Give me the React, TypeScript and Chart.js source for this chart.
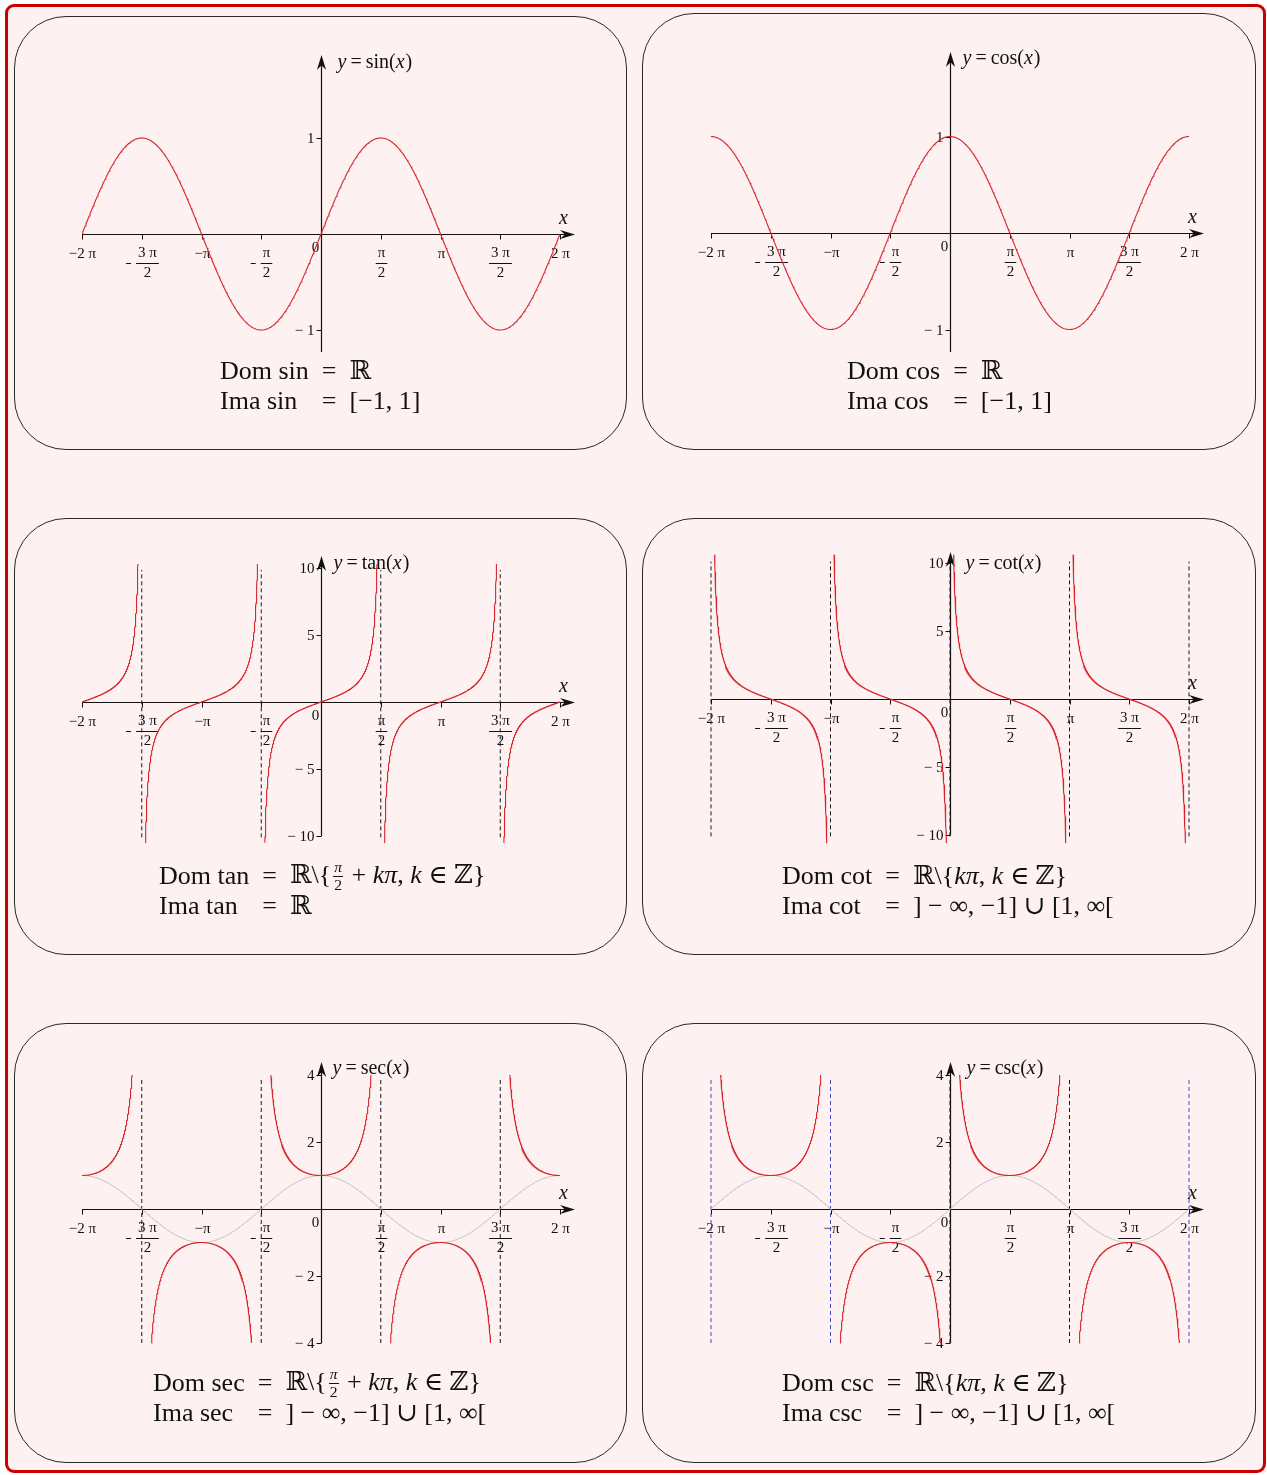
import React, { useEffect, useRef } from 'react';
import { Chart, registerables } from 'chart.js';

Chart.register(...registerables);

const PI = Math.PI;
const SERIF = '"Liberation Serif", "DejaVu Serif", "Times New Roman", serif';
const X_MIN = -2 * PI;
const X_MAX = 2 * PI;

const CURVE_RED = 'rgb(214, 38, 44)';
const GUIDE_GRAY = 'rgb(192, 192, 192)';
const ASYM_BLACK = '#1a1a1a';
const ASYM_BLUE = 'rgb(70, 70, 200)';
const AXIS_INK = '#111111';

// x ticks at multiples of π/2
const xTickValues = [-2 * PI, -1.5 * PI, -PI, -0.5 * PI, 0.5 * PI, PI, 1.5 * PI, 2 * PI];
const xTickNumerators = ['2 π', '3 π', 'π', 'π', 'π', 'π', '3 π', '2 π'];
const xTickDenominators = ['', '2', '', '2', '2', '', '2', ''];
const xTickNegative = [true, true, true, true, false, false, false, false];

// y ticks per plot
const sinYTicks = [-1, 1];
const cosYTicks = [-1, 1];
const tanYTicks = [-10, -5, 5, 10];
const cotYTicks = [-10, -5, 5, 10];
const secYTicks = [-4, -2, 2, 4];
const cscYTicks = [-4, -2, 2, 4];

// vertical asymptotes
const tanAsymptotes = [-1.5 * PI, -0.5 * PI, 0.5 * PI, 1.5 * PI];
const cotAsymptotes = [-2 * PI, -PI, 0, PI, 2 * PI];
const secAsymptotes = [-1.5 * PI, -0.5 * PI, 0.5 * PI, 1.5 * PI];
const cscAsymptotes = [-2 * PI, -PI, 0, PI, 2 * PI];
const cscAsymptoteColors = [ASYM_BLUE, ASYM_BLUE, ASYM_BLACK, ASYM_BLACK, ASYM_BLUE];

// branch centres and cut-off values of the unbounded functions
const tanBranchCenters = [-2 * PI, -PI, 0, PI, 2 * PI];
const cotBranchCenters = [-1.5 * PI, -0.5 * PI, 0.5 * PI, 1.5 * PI];
const secBranchCenters = [-2 * PI, -PI, 0, PI, 2 * PI];
const cscBranchCenters = [-1.5 * PI, -0.5 * PI, 0.5 * PI, 1.5 * PI];
const tanLimits = [-10.5, 10.3];
const cotLimits = [-10.6, 10.6];
const secCscLimit = 4;

type Pt = { x: number; y: number | null };

function sampleSmooth(f: (x: number) => number, n: number): Pt[] {
  const pts: Pt[] = [];
  for (let i = 0; i <= n; i++) {
    const x = X_MIN + ((X_MAX - X_MIN) * i) / n;
    pts.push({ x, y: f(x) });
  }
  return pts;
}

function sampleBranches(
  f: (x: number) => number,
  centers: number[],
  sLo: number,
  sHi: number,
  n: number
): Pt[] {
  const pts: Pt[] = [];
  centers.forEach((c) => {
    const a = Math.max(X_MIN, c + sLo);
    const b = Math.min(X_MAX, c + sHi);
    if (b <= a) return;
    for (let i = 0; i <= n; i++) {
      const x = a + ((b - a) * i) / n;
      pts.push({ x, y: f(x) });
    }
    pts.push({ x: b + 1e-6, y: null });
  });
  return pts;
}

const sinPoints = sampleSmooth(Math.sin, 600);
const cosPoints = sampleSmooth(Math.cos, 600);
const tanPoints = sampleBranches(Math.tan, tanBranchCenters, Math.atan(tanLimits[0]), Math.atan(tanLimits[1]), 700);
const cotPoints = sampleBranches(
  (x) => 1 / Math.tan(x),
  cotBranchCenters,
  -Math.atan(cotLimits[1]),
  -Math.atan(cotLimits[0]),
  700
);
const secPoints = sampleBranches(
  (x) => 1 / Math.cos(x),
  secBranchCenters,
  -Math.acos(1 / secCscLimit),
  Math.acos(1 / secCscLimit),
  500
);
const cscPoints = sampleBranches(
  (x) => 1 / Math.sin(x),
  cscBranchCenters,
  -Math.acos(1 / secCscLimit),
  Math.acos(1 / secCscLimit),
  500
);

interface PlotSpec {
  key: string;
  box: { x: number; y: number; w: number; h: number };
  x0: number;
  x1: number;
  yZero: number;
  yUnit: number;
  yMin: number;
  yMax: number;
  axisTop: number;
  axisBottom: number;
  yTicks: number[];
  fnName: string;
  titleDx: number;
  titleDy: number;
  datasets: any[];
}

function curve(data: Pt[], color: string, width = 1.1) {
  return {
    data,
    borderColor: color,
    borderWidth: width,
    pointRadius: 0,
    fill: false,
    spanGaps: false,
    tension: 0,
  };
}

function asymptotes(xs: number[], lo: number, hi: number, colors?: string[]) {
  return xs.map((a, i) => ({
    data: [
      { x: a, y: lo },
      { x: a, y: hi },
    ],
    borderColor: colors ? colors[i] : ASYM_BLACK,
    borderWidth: 1,
    borderDash: [4, 3],
    pointRadius: 0,
    fill: false,
    clip: false,
  }));
}

const LEFT_BOX_X = 14;
const RIGHT_BOX_X = 642;

const plots: PlotSpec[] = [
  {
    key: 'sin',
    box: { x: LEFT_BOX_X, y: 16, w: 613, h: 434 },
    x0: 82, x1: 560, yZero: 234, yUnit: 96,
    yMin: -1.3, yMax: 1.95, axisTop: 1.865, axisBottom: -1.23,
    yTicks: sinYTicks, fnName: 'sin', titleDx: 16, titleDy: 8,
    datasets: [curve(sinPoints, CURVE_RED)],
  },
  {
    key: 'cos',
    box: { x: RIGHT_BOX_X, y: 13, w: 614, h: 437 },
    x0: 711, x1: 1189, yZero: 233, yUnit: 96.5,
    yMin: -1.3, yMax: 1.95, axisTop: 1.876, axisBottom: -1.233,
    yTicks: cosYTicks, fnName: 'cos', titleDx: 12, titleDy: 7,
    datasets: [curve(cosPoints, CURVE_RED)],
  },
  {
    key: 'tan',
    box: { x: LEFT_BOX_X, y: 518, w: 613, h: 437 },
    x0: 82, x1: 560, yZero: 702, yUnit: 13.4,
    yMin: -10.8, yMax: 11.2, axisTop: 10.9, axisBottom: -10,
    yTicks: tanYTicks, fnName: 'tan', titleDx: 12, titleDy: 8,
    datasets: [curve(tanPoints, CURVE_RED), ...asymptotes(tanAsymptotes, -10.1, 9.85)],
  },
  {
    key: 'cot',
    box: { x: RIGHT_BOX_X, y: 518, w: 614, h: 437 },
    x0: 711, x1: 1189, yZero: 699, yUnit: 13.6,
    yMin: -10.8, yMax: 11.2, axisTop: 10.8, axisBottom: -10,
    yTicks: cotYTicks, fnName: 'cot', titleDx: 15, titleDy: 12,
    datasets: [curve(cotPoints, CURVE_RED), ...asymptotes(cotAsymptotes, -10.1, 10.1)],
  },
  {
    key: 'sec',
    box: { x: LEFT_BOX_X, y: 1023, w: 613, h: 440 },
    x0: 82, x1: 560, yZero: 1209, yUnit: 33.5,
    yMin: -4.15, yMax: 4.5, axisTop: 4.39, axisBottom: -4,
    yTicks: secYTicks, fnName: 'sec', titleDx: 11, titleDy: 7,
    datasets: [
      curve(secPoints, CURVE_RED),
      curve(cosPoints, GUIDE_GRAY, 1),
      ...asymptotes(secAsymptotes, -4, 3.91),
    ],
  },
  {
    key: 'csc',
    box: { x: RIGHT_BOX_X, y: 1023, w: 614, h: 440 },
    x0: 711, x1: 1189, yZero: 1209, yUnit: 33.5,
    yMin: -4.15, yMax: 4.5, axisTop: 4.39, axisBottom: -4,
    yTicks: cscYTicks, fnName: 'csc', titleDx: 16, titleDy: 7,
    datasets: [
      curve(cscPoints, CURVE_RED),
      curve(sinPoints, GUIDE_GRAY, 1),
      ...asymptotes(cscAsymptotes, -4, 3.91, cscAsymptoteColors),
    ],
  },
];

// pieces: [text, italic, extra gap after]
function drawRich(ctx: CanvasRenderingContext2D, pieces: [string, boolean, number][], x: number, y: number, size: number) {
  let cx = x;
  pieces.forEach(([text, italic, gap]) => {
    ctx.font = `${italic ? 'italic ' : ''}${size}px ${SERIF}`;
    ctx.fillText(text, cx, y);
    cx += ctx.measureText(text).width + gap;
  });
}

function drawArrow(ctx: CanvasRenderingContext2D, tx: number, ty: number, dir: 'right' | 'up') {
  const L = 15;
  const W = 4.6;
  const N = 0.68;
  ctx.beginPath();
  if (dir === 'right') {
    ctx.moveTo(tx, ty);
    ctx.lineTo(tx - L, ty - W);
    ctx.lineTo(tx - L * N, ty);
    ctx.lineTo(tx - L, ty + W);
  } else {
    ctx.moveTo(tx, ty);
    ctx.lineTo(tx - W, ty + L);
    ctx.lineTo(tx, ty + L * N);
    ctx.lineTo(tx + W, ty + L);
  }
  ctx.closePath();
  ctx.fill();
}

const TICK_FONT = `15px ${SERIF}`;

function mathAxesPlugin(spec: PlotSpec) {
  return {
    id: 'mathAxes',
    beforeDatasetsDraw(chart: any) {
      const ctx: CanvasRenderingContext2D = chart.ctx;
      const xs = chart.scales.x;
      const ys = chart.scales.y;
      const ox = Math.round(xs.getPixelForValue(0)) + 0.5;
      const oy = Math.round(ys.getPixelForValue(0)) + 0.5;
      const left = xs.getPixelForValue(X_MIN);
      const xEnd = xs.getPixelForValue(X_MAX);
      const right = xEnd + 15;
      const top = ys.getPixelForValue(spec.axisTop);
      const bottom = ys.getPixelForValue(spec.axisBottom);

      ctx.save();
      ctx.strokeStyle = AXIS_INK;
      ctx.fillStyle = AXIS_INK;
      ctx.lineWidth = 1.2;

      // axes
      ctx.beginPath();
      ctx.moveTo(left, oy);
      ctx.lineTo(right - 6, oy);
      ctx.moveTo(ox, bottom);
      ctx.lineTo(ox, top + 6);
      ctx.stroke();
      drawArrow(ctx, right, oy, 'right');
      drawArrow(ctx, ox, top, 'up');

      // x ticks and labels
      ctx.lineWidth = 1;
      ctx.textBaseline = 'middle';
      xTickValues.forEach((v, i) => {
        const px = Math.round(xs.getPixelForValue(v)) + 0.5;
        ctx.beginPath();
        ctx.moveTo(px, oy);
        ctx.lineTo(px, oy + 5);
        ctx.stroke();

        ctx.font = TICK_FONT;
        const num = xTickNumerators[i];
        const den = xTickDenominators[i];
        const neg = xTickNegative[i];
        if (!den) {
          ctx.textAlign = 'center';
          ctx.fillText((neg ? '−' : '') + num, px, oy + 20);
        } else {
          const wFrac = Math.max(ctx.measureText(num).width, ctx.measureText(den).width) + 4;
          const wSign = neg ? 5 : 0;
          const gap = neg ? 5 : 0;
          const start = px - (wSign + gap + wFrac) / 2;
          const fc = start + wSign + gap + wFrac / 2;
          const barY = Math.round(oy + 28) + 0.5;
          if (neg) {
            ctx.beginPath();
            ctx.moveTo(start, barY);
            ctx.lineTo(start + wSign, barY);
            ctx.stroke();
          }
          ctx.textAlign = 'center';
          ctx.fillText(num, fc, oy + 19);
          ctx.fillText(den, fc, oy + 39);
          ctx.beginPath();
          ctx.moveTo(fc - wFrac / 2, barY);
          ctx.lineTo(fc + wFrac / 2, barY);
          ctx.stroke();
        }
      });

      // y ticks and labels
      spec.yTicks.forEach((v) => {
        const py = Math.round(ys.getPixelForValue(v)) + 0.5;
        ctx.beginPath();
        ctx.moveTo(ox - 5, py);
        ctx.lineTo(ox, py);
        ctx.stroke();
        ctx.font = TICK_FONT;
        ctx.textAlign = 'right';
        ctx.fillText(v < 0 ? '− ' + Math.abs(v) : String(v), ox - 7, py + 0.5);
      });

      // origin
      ctx.textAlign = 'center';
      ctx.font = TICK_FONT;
      ctx.fillText('0', ox - 6, oy + 14);

      // axis names
      ctx.textAlign = 'left';
      ctx.font = `italic 20px ${SERIF}`;
      ctx.fillText('x', xEnd - 1, oy - 16);
      drawRich(
        ctx,
        [
          ['y', true, 4],
          ['=', false, 4],
          [spec.fnName + '(', false, 0],
          ['x', true, 1],
          [')', false, 0],
        ],
        ox + spec.titleDx,
        top + spec.titleDy,
        20
      );
      ctx.restore();
    },
  };
}

function PlotCanvas({ spec }: { spec: PlotSpec }) {
  const ref = useRef<HTMLCanvasElement>(null);
  useEffect(() => {
    const canvas = ref.current;
    if (!canvas) return;
    const { box } = spec;
    const plotTop = spec.yZero - spec.yMax * spec.yUnit;
    const plotBottom = spec.yZero - spec.yMin * spec.yUnit;
    const chart = new Chart(canvas, {
      type: 'line',
      data: { datasets: spec.datasets },
      options: {
        responsive: false,
        animation: false,
        devicePixelRatio: 1,
        events: [],
        layout: {
          padding: {
            left: spec.x0 - box.x,
            right: box.x + box.w - spec.x1,
            top: plotTop - box.y,
            bottom: box.y + box.h - plotBottom,
          },
        },
        plugins: {
          legend: { display: false },
          tooltip: { enabled: false },
          title: { display: false },
        },
        scales: {
          x: { type: 'linear', min: X_MIN, max: X_MAX, display: false },
          y: { type: 'linear', min: spec.yMin, max: spec.yMax, display: false },
        },
      },
      plugins: [mathAxesPlugin(spec)],
    } as any);
    return () => chart.destroy();
  }, [spec]);
  return (
    <canvas
      ref={ref}
      width={spec.box.w}
      height={spec.box.h}
      style={{
        position: 'absolute',
        left: spec.box.x,
        top: spec.box.y,
        width: spec.box.w,
        height: spec.box.h,
      }}
    />
  );
}

const I = ({ children }: { children: React.ReactNode }) => <span style={{ fontStyle: 'italic' }}>{children}</span>;

const Frac = ({ n, d }: { n: string; d: string }) => (
  <span
    style={{
      display: 'inline-block',
      verticalAlign: '-0.42em',
      textAlign: 'center',
      fontSize: '0.6em',
      lineHeight: 1.05,
      margin: '0 2px',
    }}
  >
    <span style={{ display: 'block', borderBottom: '1px solid #111', padding: '0 1px', fontStyle: 'italic' }}>{n}</span>
    <span style={{ display: 'block' }}>{d}</span>
  </span>
);

const realsMinusHalfPi = (
  <>
    {'ℝ\\{'}
    <Frac n="π" d="2" />
    {' + '}
    <I>kπ</I>
    {', '}
    <I>k</I>
    {' ∈ ℤ}'}
  </>
);
const realsMinusPi = (
  <>
    {'ℝ\\{'}
    <I>kπ</I>
    {', '}
    <I>k</I>
    {' ∈ ℤ}'}
  </>
);
const outsideUnit = <>{'] − ∞, −1] ∪ [1, ∞['}</>;

const textBlocks: { key: string; x: number; y: number; rows: [string, React.ReactNode][] }[] = [
  { key: 'sin', x: 220, y: 356, rows: [['Dom sin', 'ℝ'], ['Ima sin', '[−1, 1]']] },
  { key: 'cos', x: 847, y: 356, rows: [['Dom cos', 'ℝ'], ['Ima cos', '[−1, 1]']] },
  { key: 'tan', x: 159, y: 861, rows: [['Dom tan', realsMinusHalfPi], ['Ima tan', 'ℝ']] },
  { key: 'cot', x: 782, y: 861, rows: [['Dom cot', realsMinusPi], ['Ima cot', outsideUnit]] },
  { key: 'sec', x: 153, y: 1368, rows: [['Dom sec', realsMinusHalfPi], ['Ima sec', outsideUnit]] },
  { key: 'csc', x: 782, y: 1368, rows: [['Dom csc', realsMinusPi], ['Ima csc', outsideUnit]] },
];

export default function App() {
  return (
    <div style={{ position: 'absolute', left: 0, top: 0, width: 1267, height: 1475, background: '#ffffff', fontFamily: SERIF }}>
      <div
        style={{
          position: 'absolute',
          left: 5,
          top: 4,
          width: 1261,
          height: 1469,
          boxSizing: 'border-box',
          border: '3px solid #c80000',
          borderRadius: 9,
          background: '#fdf1f1',
        }}
      />
      {plots.map((p) => (
        <div
          key={'panel-' + p.key}
          style={{
            position: 'absolute',
            left: p.box.x,
            top: p.box.y,
            width: p.box.w,
            height: p.box.h,
            boxSizing: 'border-box',
            border: '1.2px solid #2a2a2a',
            borderRadius: 52,
          }}
        />
      ))}
      {plots.map((p) => (
        <PlotCanvas key={'plot-' + p.key} spec={p} />
      ))}
      {textBlocks.map((t) => (
        <div
          key={'text-' + t.key}
          style={{
            position: 'absolute',
            left: t.x,
            top: t.y,
            display: 'grid',
            gridTemplateColumns: 'auto auto auto',
            gridAutoRows: '30px',
            columnGap: 13,
            alignItems: 'center',
            fontSize: 26,
            lineHeight: '30px',
            color: '#111',
            whiteSpace: 'nowrap',
          }}
        >
          {t.rows.map(([lhs, rhs], i) => (
            <React.Fragment key={i}>
              <span>{lhs}</span>
              <span>=</span>
              <span>{rhs}</span>
            </React.Fragment>
          ))}
        </div>
      ))}
    </div>
  );
}
